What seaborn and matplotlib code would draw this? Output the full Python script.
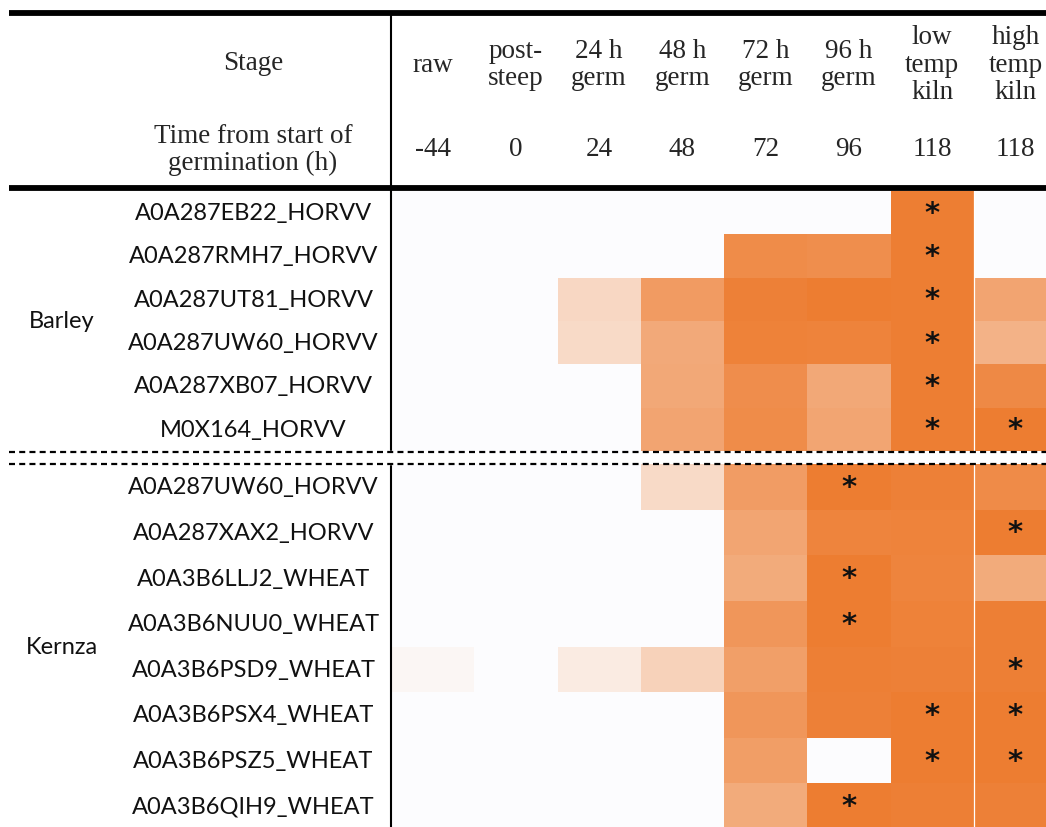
import numpy as np
import pandas as pd
import matplotlib
matplotlib.use("Agg")
import matplotlib.pyplot as plt
import matplotlib.transforms as mtransforms
from matplotlib.colors import LinearSegmentedColormap
from matplotlib.lines import Line2D
import seaborn as sns

# ---- data ---------------------------------------------------------------
stages = ["raw", "post-\nsteep", "24 h\ngerm", "48 h\ngerm", "72 h\ngerm",
          "96 h\ngerm", "low\ntemp\nkiln", "high\ntemp\nkiln"]
hours = ["-44", "0", "24", "48", "72", "96", "118", "118"]

barley_proteins = ["A0A287EB22_HORVV", "A0A287RMH7_HORVV", "A0A287UT81_HORVV",
                   "A0A287UW60_HORVV", "A0A287XB07_HORVV", "M0X164_HORVV"]
barley_values = [
    [0.00, 0.00, 0.00, 0.00, 0.00, 0.00, 0.99, 0.00],
    [0.00, 0.00, 0.00, 0.00, 0.88, 0.86, 0.99, 0.00],
    [0.00, 0.00, 0.29, 0.76, 0.97, 1.00, 0.99, 0.69],
    [0.00, 0.00, 0.27, 0.65, 0.96, 0.95, 0.99, 0.58],
    [0.00, 0.00, 0.00, 0.66, 0.87, 0.66, 0.99, 0.90],
    [0.00, 0.00, 0.00, 0.69, 0.88, 0.68, 0.99, 1.00],
]
barley_signif = [
    [0, 0, 0, 0, 0, 0, 1, 0],
    [0, 0, 0, 0, 0, 0, 1, 0],
    [0, 0, 0, 0, 0, 0, 1, 0],
    [0, 0, 0, 0, 0, 0, 1, 0],
    [0, 0, 0, 0, 0, 0, 1, 0],
    [0, 0, 0, 0, 0, 0, 1, 1],
]

kernza_proteins = ["A0A287UW60_HORVV", "A0A287XAX2_HORVV", "A0A3B6LLJ2_WHEAT",
                   "A0A3B6NUU0_WHEAT", "A0A3B6PSD9_WHEAT", "A0A3B6PSX4_WHEAT",
                   "A0A3B6PSZ5_WHEAT", "A0A3B6QIH9_WHEAT"]
kernza_values = [
    [0.00, 0.00, 0.00, 0.27, 0.75, 1.00, 0.97, 0.89],
    [0.00, 0.00, 0.00, 0.00, 0.68, 0.94, 0.95, 1.00],
    [0.00, 0.00, 0.00, 0.00, 0.64, 1.00, 0.94, 0.64],
    [0.00, 0.00, 0.00, 0.00, 0.80, 1.00, 0.96, 0.98],
    [0.05, 0.00, 0.14, 0.33, 0.73, 0.98, 0.97, 0.98],
    [0.00, 0.00, 0.00, 0.00, 0.80, 0.97, 1.00, 1.00],
    [0.00, 0.00, 0.00, 0.00, 0.74, 0.00, 1.00, 1.00],
    [0.00, 0.00, 0.00, 0.00, 0.64, 1.00, 0.98, 0.97],
]
kernza_signif = [
    [0, 0, 0, 0, 0, 1, 0, 0],
    [0, 0, 0, 0, 0, 0, 0, 1],
    [0, 0, 0, 0, 0, 1, 0, 0],
    [0, 0, 0, 0, 0, 1, 0, 0],
    [0, 0, 0, 0, 0, 0, 0, 1],
    [0, 0, 0, 0, 0, 0, 1, 1],
    [0, 0, 0, 0, 0, 0, 1, 1],
    [0, 0, 0, 0, 0, 1, 0, 0],
]

# ---- styling --------------------------------------------------------------
sns.set_theme(style="white")
plt.rcParams["font.family"] = ["Lato", "DejaVu Sans"]

W, H = 1046, 828
fig = plt.figure(figsize=(W / 100, H / 100), dpi=100)
fig.patch.set_facecolor("white")

cmap = LinearSegmentedColormap.from_list("orange_scale", ["#FCFCFE", "#ED7D31"])
SERIF = "Liberation Serif"
LABEL_SIZE = 17
HEAD_SIZE = 19.5


def px_rect(x0, y0, x1, y1):
    return [x0 / W, 1 - y1 / H, (x1 - x0) / W, (y1 - y0) / H]


def fy(y):
    return 1 - y / H


def draw_block(rect, proteins, values, signif, group):
    ax = fig.add_axes(px_rect(*rect))
    df = pd.DataFrame(values, index=proteins, columns=hours)
    marks = np.where(np.array(signif) == 1, "*", "")
    sns.heatmap(df, ax=ax, cmap=cmap, vmin=0, vmax=1, cbar=False,
                annot=marks, fmt="", xticklabels=False, yticklabels=True,
                annot_kws={"fontsize": 21, "color": "#111111",
                           "family": "DejaVu Sans", "fontweight": "bold"})
    ax.tick_params(axis="y", length=0, pad=99, labelsize=LABEL_SIZE,
                   labelcolor="#111111")
    for lab in ax.get_yticklabels():
        lab.set_rotation(0)
        lab.set_ha("center")
    ax.set_xlabel("")
    ax.set_ylabel("")
    for sp in ax.spines.values():
        sp.set_visible(False)
    # thin white seam between the two kiln columns
    ax.axvline(7, color="white", lw=0.9)
    trans = mtransforms.blended_transform_factory(fig.transFigure, ax.transData)
    ax.text(62 / W, len(proteins) / 2, group, transform=trans, ha="center",
            va="center", fontsize=LABEL_SIZE, color="#111111")
    return ax


ax_b = draw_block((391, 192, 1057, 452), barley_proteins, barley_values,
                  barley_signif, "Barley")
ax_k = draw_block((391, 465, 1057, 830), kernza_proteins, kernza_values,
                  kernza_signif, "Kernza")

# ---- header ---------------------------------------------------------------
htrans = mtransforms.blended_transform_factory(ax_b.transData, fig.transFigure)
for i, (stage, hr) in enumerate(zip(stages, hours)):
    ax_b.text(i + 0.5, fy(65), stage, transform=htrans, ha="center",
              va="center", family=SERIF, fontsize=HEAD_SIZE, linespacing=1.13)
    ax_b.text(i + 0.5, fy(150), hr, transform=htrans, ha="center",
              va="center", family=SERIF, fontsize=HEAD_SIZE)

fig.text(253 / W, fy(64), "Stage", ha="center", va="center",
         family=SERIF, fontsize=HEAD_SIZE)
fig.text(253 / W, fy(150), "Time from start of\ngermination (h)", ha="center",
         va="center", family=SERIF, fontsize=HEAD_SIZE, linespacing=1.13)

# ---- rules ----------------------------------------------------------------
for y in (14, 189):
    fig.add_artist(Line2D([9 / W, 1], [fy(y), fy(y)], color="black", lw=4.2,
                          solid_capstyle="butt"))
for y in (453, 465):
    fig.add_artist(Line2D([9 / W, 1], [fy(y), fy(y)], color="black", lw=1.6,
                          linestyle=(0, (2.7, 1.9))))
for y0, y1 in ((14, 451), (467, 828)):
    fig.add_artist(Line2D([390.5 / W, 390.5 / W], [fy(y0), fy(y1)],
                          color="black", lw=1.5))

fig.savefig("out.png", dpi=100, facecolor="white")
